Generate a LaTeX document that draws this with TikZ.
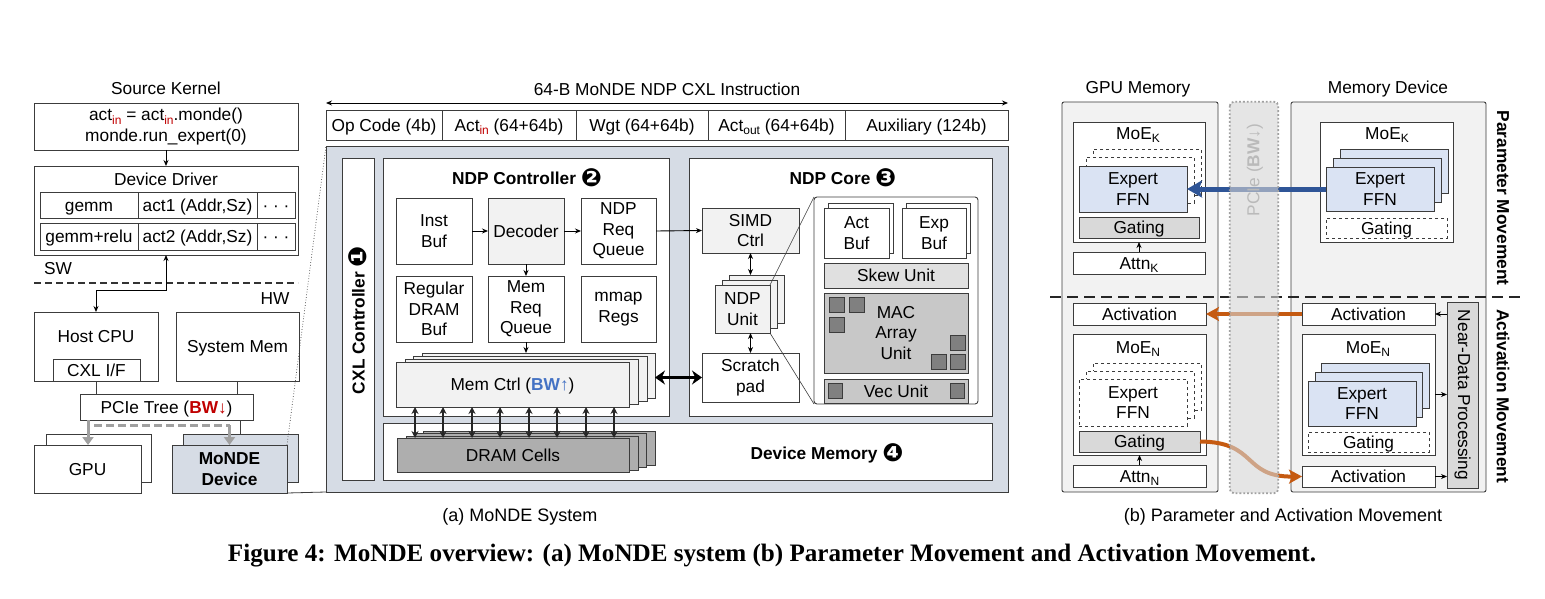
\documentclass[tikz,border=0pt]{standalone}
\usepackage{fontspec}
\usepackage{graphicx}
\setmainfont{Liberation Sans}
\newfontfamily\djv{DejaVu Sans}
\newfontfamily\capserif{Liberation Serif}
\usetikzlibrary{arrows.meta,calc}

\definecolor{bgblue}{RGB}{214,220,229}
\definecolor{lgray}{RGB}{242,242,242}
\definecolor{mgray}{RGB}{224,224,224}
\definecolor{macgray}{RGB}{200,200,200}
\definecolor{sqgray}{RGB}{128,128,128}
\definecolor{dramgray}{RGB}{174,174,174}
\definecolor{redc}{RGB}{192,0,0}
\definecolor{bwblue}{RGB}{68,114,196}
\definecolor{expblue}{RGB}{218,227,243}
\definecolor{gategray}{RGB}{217,217,217}
\definecolor{arrblue}{RGB}{47,85,151}
\definecolor{arrorange}{RGB}{197,90,17}
\definecolor{linec}{RGB}{60,60,60}
\definecolor{pcgray}{RGB}{213,213,213}
\definecolor{garr}{RGB}{160,160,160}

\newcommand\fs{\fontsize{17.3}{20.5}\selectfont}
\newcommand\lowr[1]{\raisebox{-0.4ex}{\fontsize{12}{12}\selectfont #1}}
\newcommand\circnum[1]{{\djv\fontsize{25}{25}\selectfont\raisebox{-0.15ex}{#1}}}
\newcommand\bx[7]{\node[#6, minimum width={(#4-#2)*1pt}, minimum height={(#5-#3)*1pt}] (#1) at ({(#2+#4)/2},{(#3+#5)/2}) {#7};}

\tikzset{
  base/.style={draw=linec, line width=0.9pt, inner sep=0pt, outer sep=0pt, align=center, font=\fs, fill=white},
  sl/.style={text height=12.4pt, text depth=0pt},
  txt/.style={inner sep=0pt, outer sep=0pt, align=center, font=\fs},
  sqbox/.style={draw=linec, fill=sqgray, line width=0.6pt, inner sep=0pt, outer sep=0pt},
  arr/.style={draw=black, line width=0.9pt, -{Stealth[length=6pt,width=5pt]}},
  dbl/.style={draw=black, line width=0.9pt, {Stealth[length=6pt,width=5pt]}-{Stealth[length=6pt,width=5pt]}},
  mdbl/.style={draw=black!85, line width=1.8pt, {Stealth[length=7pt,width=7pt]}-{Stealth[length=7pt,width=7pt]}},
  bigdbl/.style={draw=black, line width=3.5pt, {Stealth[length=10pt,width=14pt]}-{Stealth[length=10pt,width=14pt]}},
  grayarr/.style={draw=garr, line width=3pt, -{Triangle[length=8pt,width=11pt]}},
  bluearr/.style={draw=arrblue, line width=5pt, -{Stealth[length=15pt,width=17pt,inset=3pt]}},
  orangearr/.style={draw=arrorange, line width=4pt, -{Stealth[length=13pt,width=14pt,inset=3pt]}},
}

\begin{document}
\begin{tikzpicture}[x=1pt,y=-1pt]
\fill[white] (0,0) rectangle (1545,599);
\useasboundingbox (0,0) rectangle (1545,599);

% ---------------- left: software / hardware stack
\node[txt] (skT) at (166,88) {Source Kernel};
\bx{sk}{34}{103}{298}{150}{base}{act\lowr{\color{redc}in} = act\lowr{\color{redc}in}.monde()\\monde.run\_expert(0)}
\bx{dd}{34}{166}{298}{255}{base}{}
\node[txt] (ddT) at (166,179) {Device Driver};
\bx{c11}{40}{192}{138}{218}{base,sl}{gemm}
\bx{c12}{138}{192}{257}{218}{base,sl}{act1 (Addr,Sz)}
\bx{c13}{257}{192}{295}{218}{base,sl}{· · ·}
\bx{c21}{40}{223}{138}{250}{base,sl}{gemm+relu}
\bx{c22}{138}{223}{257}{250}{base,sl}{act2 (Addr,Sz)}
\bx{c23}{257}{223}{295}{250}{base,sl}{· · ·}
\node[txt] (swT) at (58,269) {SW};
\node[txt] (hwT) at (275,299) {HW};
\coordinate (dl1) at (34,283); \coordinate (dl2) at (298,283);
\draw[black!80, line width=2.5pt, dash pattern=on 7pt off 4pt] (dl1) -- (dl2);

\bx{cpu}{34}{312}{158}{381}{base}{}
\node[txt] (cpuT) at (96,337) {Host CPU};
\bx{cxlif}{53}{359}{140}{381}{base,sl}{CXL I/F}
\bx{sysmem}{176}{312}{299}{381}{base,sl}{System Mem}
\bx{pcie}{80}{394}{253}{420}{base,sl}{PCIe Tree (\textcolor{redc}{\bfseries BW}\textcolor{redc}{↓})}
\bx{gpuB}{46}{434}{151}{482}{base}{}
\bx{gpuF}{34}{445}{141}{493}{base,sl}{GPU}
\bx{mondeB}{183}{434}{298}{482}{base,fill=bgblue}{}
\bx{mondeF}{172}{445}{287}{493}{base,fill=bgblue,font=\fs\bfseries}{MoNDE\\Device}

\draw[arr] (sk.south) -- (dd.north);
\coordinate (cpubend) at (96,290);
\draw[dbl] (cpu.north) -- (cpu.north |- cpubend) -| (dd.south);
\draw[linec, line width=0.9pt] (cpu.south) -- (cpu.south |- pcie.north);
\draw[linec, line width=0.9pt] (sysmem.south) -- (sysmem.south |- pcie.north);
\draw[linec, line width=0.9pt] (mondeB.north |- pcie.south) -- (mondeB.north);
\coordinate (gx) at (88,0);
\draw[grayarr] (pcie.south -| gx) -- (gpuF.north -| gx);
\coordinate (gd1) at (94,425); \coordinate (gd2) at (229.5,425);
\draw[garr, line width=3pt, dash pattern=on 8pt off 4pt] (gd1) -- (gd2);
\draw[grayarr] (gd2) -- (mondeF.north);

% ---------------- instruction
\node[txt] (instT) at (667,89) {64-B MoNDE NDP CXL Instruction};
\coordinate (iL) at (326,103); \coordinate (iR) at (1008,103);
\draw[dbl] (iL) -- (iR);
\bx{i1}{326}{110}{442}{140}{base,sl}{Op Code (4b)}
\bx{i2}{442}{110}{576}{140}{base,sl}{Act\lowr{\color{redc}in} (64+64b)}
\bx{i3}{576}{110}{708}{140}{base,sl}{Wgt (64+64b)}
\bx{i4}{708}{110}{845}{140}{base,sl}{Act\lowr{out} (64+64b)}
\bx{i5}{845}{110}{1008}{140}{base,sl}{Auxiliary (124b)}

% ---------------- main device box
\bx{main}{326}{146}{1008}{492}{base,fill=bgblue}{}
\draw[linec, line width=0.7pt, dotted] (mondeF.north east) -- (main.north west);
\draw[linec, line width=0.8pt] (mondeF.south east) -- (main.south west);

\bx{cxl}{342}{158}{374}{480}{base}{}
\node[txt,rotate=90,font=\fs\bfseries] (cxlT) at (358,320) {CXL Controller \circnum{❶}};

% NDP controller
\bx{ndpc}{383}{158}{669}{416}{base}{}
\node[txt,font=\fs\bfseries] (ndpcT) at (527,178) {NDP Controller \circnum{❷}};
\bx{instbuf}{396}{198}{472}{264}{base}{Inst\\Buf}
\bx{decoder}{488}{198}{564}{264}{base,sl,fill=lgray}{Decoder}
\bx{ndpreq}{581}{198}{656}{264}{base}{NDP\\Req\\Queue}
\bx{regbuf}{396}{276}{472}{342}{base}{Regular\\DRAM\\Buf}
\bx{memreq}{488}{276}{564}{342}{base}{Mem\\Req\\Queue}
\bx{mmap}{581}{276}{656}{342}{base}{mmap\\Regs}
\bx{memctrl3}{422}{353}{655}{398}{base,fill=lgray}{}
\bx{memctrl2}{413}{356}{647}{401}{base,fill=lgray}{}
\bx{memctrl1}{405}{359}{638}{404}{base,fill=lgray}{}
\bx{memctrl}{396}{362}{629}{407}{base,sl,fill=lgray}{Mem Ctrl (\textcolor{bwblue}{\bfseries BW}\textcolor{bwblue}{↑})}

% NDP core
\bx{ndpcore}{689}{158}{992}{416}{base}{}
\node[txt,font=\fs\bfseries] (ndpcoreT) at (843,178) {NDP Core \circnum{❸}};
\bx{simd}{702}{208}{799}{253}{base,fill=lgray}{SIMD\\Ctrl}
\bx{ndpu2}{729}{275}{784}{323}{base,fill=lgray}{}
\bx{ndpu1}{722}{280}{777}{328}{base,fill=lgray}{}
\bx{ndpu}{715}{285}{770}{333}{base,fill=lgray}{NDP\\Unit}
\bx{scratch}{702}{353}{799}{402}{base}{Scratch\\pad}
\bx{panel}{814}{197}{978}{404}{base,rounded corners=3pt}{}
\draw[linec, line width=0.6pt] (ndpu.north east) -- (panel.north west);
\draw[linec, line width=0.6pt] (ndpu.south east) -- (panel.south west);
\bx{actbufB}{828}{203}{893}{253}{base}{}
\bx{actbuf}{824}{208}{889}{258}{base}{Act\\Buf}
\bx{expbufB}{906}{203}{970}{253}{base}{}
\bx{expbuf}{902}{208}{966}{258}{base}{Exp\\Buf}
\bx{skew}{824}{263}{968}{288}{base,sl,fill=mgray}{Skew Unit}
\bx{mac}{824}{293}{968}{373}{base,fill=macgray}{MAC\\Array\\Unit}
\bx{sqa}{829}{297}{844}{312}{sqbox}{}
\bx{sqb}{849}{297}{864}{312}{sqbox}{}
\bx{sqc}{829}{317}{844}{332}{sqbox}{}
\bx{sqd}{950}{335}{965}{350}{sqbox}{}
\bx{sqe}{931}{354}{946}{369}{sqbox}{}
\bx{sqf}{950}{354}{965}{369}{sqbox}{}
\bx{vec}{824}{379}{968}{403}{base,sl,fill=macgray}{Vec Unit}
\bx{sqg}{828}{383}{842}{398}{sqbox}{}
\bx{sqh}{950}{383}{964}{398}{sqbox}{}

% device memory
\bx{devmem}{383}{423}{992}{480}{base}{}
\node[txt,font=\fs\bfseries] (devmemT) at (827,453) {Device Memory \circnum{❹}};
\bx{dram3}{423}{431}{655}{465}{base,fill=dramgray}{}
\bx{dram2}{414}{433}{646}{467}{base,fill=dramgray}{}
\bx{dram1}{406}{436}{638}{470}{base,fill=dramgray}{}
\bx{dram}{397}{438}{629}{472}{base,sl,fill=dramgray}{DRAM Cells}

% controller connectors
\draw[arr] (instbuf.east) -- (decoder.west);
\draw[arr] (decoder.east) -- (ndpreq.west);
\draw[arr] (decoder.south) -- (memreq.north);
\draw[arr] (memreq.south) -- (memreq.south |- memctrl3.north);
\draw[arr] (ndpreq.east) -- (simd.west);
\draw[dbl] (simd.south) -- (simd.south |- ndpu2.north);
\draw[dbl] (scratch.north) -- (scratch.north |- ndpu.south);
\draw[bigdbl] (memctrl3.east |- scratch.west) -- (scratch.west);
\foreach \xx [count=\i] in {415,443,472,500,529,557,586,614} {
  \coordinate (tx\i) at (\xx,0);
  \draw[mdbl] (memctrl.south -| tx\i) -- (dram.north -| tx\i);
}
\node[txt,font=\fontsize{18}{20}\selectfont] (capA) at (520,517) {(a) MoNDE System};

% ---------------- right part
\node[txt] (gpuMT) at (1138,89) {GPU Memory};
\node[txt] (memDT) at (1388,89) {Memory Device};
\bx{gpumem}{1062}{102}{1218}{492}{base,fill=lgray,rounded corners=2pt}{}
\bx{memdev}{1291}{102}{1486}{492}{base,fill=lgray,rounded corners=2pt}{}

\bx{moeKg}{1073}{122}{1205}{242}{base}{}
\node[txt] (moeKgT) at (1138,135) {MoE\lowr{K}};
\bx{expKg2}{1093}{149}{1201}{195}{base,dashed}{}
\bx{expKg1}{1086}{157}{1194}{203}{base,dashed}{}
\bx{expKg}{1079}{166}{1187}{212}{base,fill=expblue}{Expert\\FFN}
\bx{gateKg}{1079}{217}{1199}{238}{base,sl,fill=gategray}{Gating}
\bx{attnK}{1073}{252}{1205}{274}{base,sl}{Attn\lowr{K}}
\draw[arr] (attnK.north) -- (moeKg.south);

\bx{moeKm}{1320}{122}{1453}{242}{base}{}
\node[txt] (moeKmT) at (1387,135) {MoE\lowr{K}};
\bx{expKm2}{1340}{149}{1448}{193}{base,fill=expblue}{}
\bx{expKm1}{1333}{158}{1441}{202}{base,fill=expblue}{}
\bx{expKm}{1326}{167}{1434}{211}{base,fill=expblue}{Expert\\FFN}
\bx{gateKm}{1326}{218}{1447}{238}{base,sl,dashed}{Gating}
\draw[bluearr] (expKm.west) -- (expKg.east);

\bx{actG}{1073}{303}{1206}{325}{base,sl}{Activation}
\bx{actM1}{1302}{303}{1435}{325}{base,sl}{Activation}
\bx{ndpbox}{1447}{302}{1478}{488}{base,fill=gategray}{}
\node[txt,rotate=-90] (ndpboxT) at (ndpbox.center) {Near-Data Processing};
\draw[orangearr] (actM1.west) -- (actG.east);
\draw[arr] (ndpbox.west |- actM1.east) -- (actM1.east);

\bx{moeNg}{1073}{334}{1206}{455}{base}{}
\node[txt] (moeNgT) at (1138,349) {MoE\lowr{N}};
\bx{expNg2}{1093}{363}{1201}{410}{base,dashed}{}
\bx{expNg1}{1086}{371}{1194}{418}{base,dashed}{}
\bx{expNg}{1079}{379}{1187}{426}{base,dashed}{Expert\\FFN}
\bx{gateNg}{1079}{431}{1200}{452}{base,sl,fill=gategray}{Gating}
\bx{attnN}{1073}{465}{1206}{487}{base,sl}{Attn\lowr{N}}
\draw[arr] (attnN.north) -- (moeNg.south);

\bx{moeNm}{1302}{334}{1435}{455}{base}{}
\node[txt] (moeNmT) at (1368,349) {MoE\lowr{N}};
\bx{expNm2}{1321}{363}{1429}{408}{base,fill=expblue}{}
\bx{expNm1}{1315}{372}{1422}{417}{base,fill=expblue}{}
\bx{expNm}{1308}{381}{1416}{426}{base,fill=expblue}{Expert\\FFN}
\bx{gateNm}{1308}{432}{1429}{452}{base,sl,dashed}{Gating}
\bx{actM2}{1302}{466}{1435}{487}{base,sl}{Activation}
\draw[arr] (moeNm.east) -- (ndpbox.west |- moeNm.east);
\draw[arr] (actM2.east) -- (ndpbox.west |- actM2.east);
\draw[orangearr] (gateNg.east) .. controls (1258,442) and (1242,477) .. (actM2.west);

\coordinate (rd1) at (1050,297); \coordinate (rd2) at (1520,297);
\draw[black!85, line width=2.5pt, dash pattern=on 11pt off 6pt] (rd1) -- (rd2);
\node[txt,rotate=-90,font=\fs\bfseries] (pmT) at (1503,198) {Parameter Movement};
\node[txt,rotate=-90,font=\fs\bfseries] (amT) at (1503,396) {Activation Movement};

% PCIe column (over everything)
\bx{pciecol}{1230}{102}{1278}{493}{draw=none,fill=pcgray,fill opacity=0.6,rounded corners=4pt}{}
\draw[draw=garr, line width=1.8pt, dotted, rounded corners=4pt] (pciecol.north west) rectangle (pciecol.south east);
\node[txt,rotate=90,text=black!27] (pcieT) at (1255,170) {PCIe ({\bfseries BW}↓)};

\node[txt,font=\fontsize{18}{20}\selectfont] (capB) at (1283,517) {(b) Parameter and Activation Movement};

% ---------------- figure caption
\node[inner sep=0pt] (cap) at (772,556) {\resizebox{1088pt}{!}{\capserif\bfseries Figure 4: MoNDE overview: (a) MoNDE system (b) Parameter Movement and Activation Movement.}};
\end{tikzpicture}
\end{document}
